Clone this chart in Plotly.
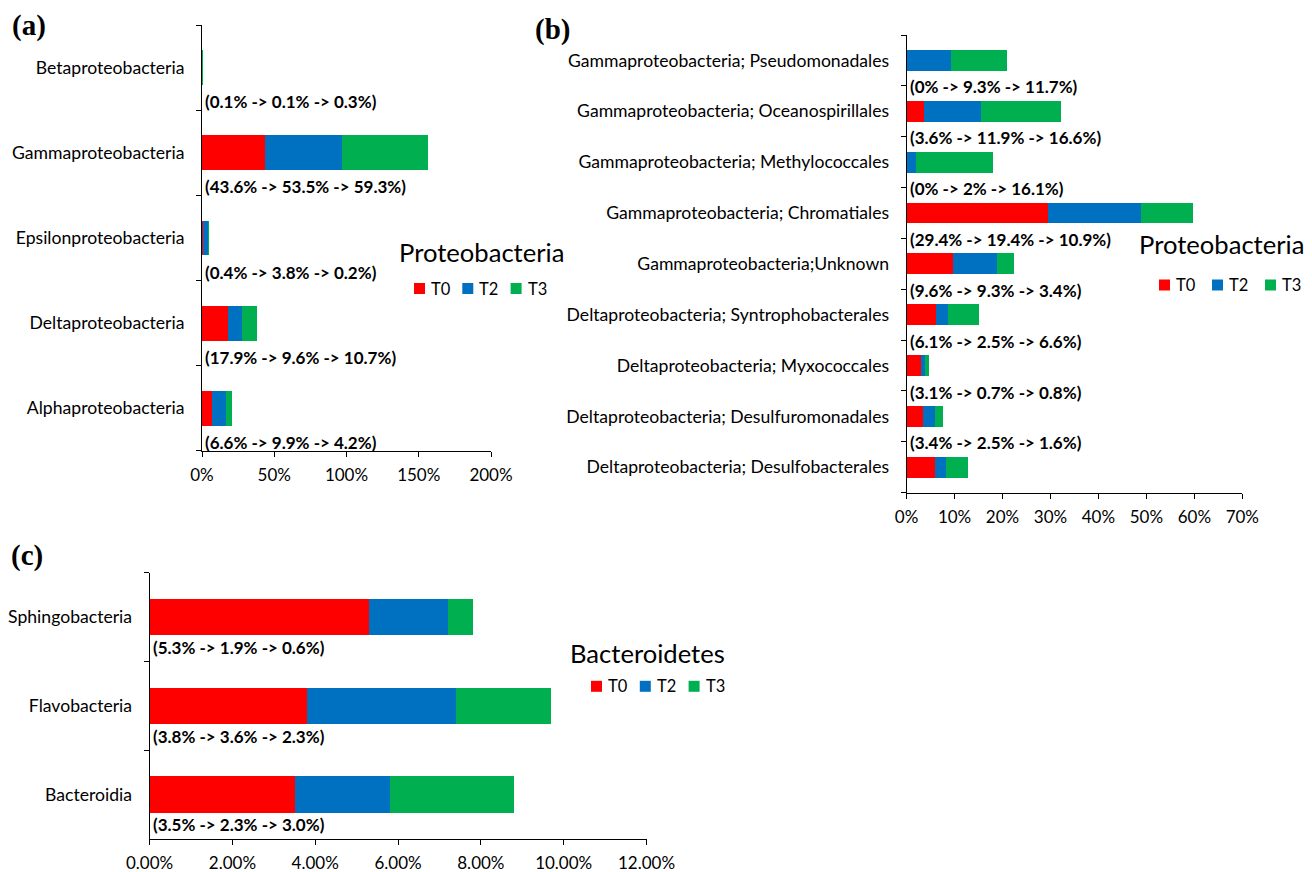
import plotly.graph_objects as go

# ---------------- data ----------------
series = ["T0", "T2", "T3"]
colors = ["#FF0000", "#0070C0", "#00B050"]

# (a) Proteobacteria classes, bottom -> top
cats_a = ["Alphaproteobacteria", "Deltaproteobacteria", "Epsilonproteobacteria",
          "Gammaproteobacteria", "Betaproteobacteria"]
t0_a = [6.6, 17.9, 0.4, 43.6, 0.1]
t2_a = [9.9, 9.6, 3.8, 53.5, 0.1]
t3_a = [4.2, 10.7, 0.2, 59.3, 0.3]

# (b) Proteobacteria orders, bottom -> top
cats_b = ["Deltaproteobacteria; Desulfobacterales",
          "Deltaproteobacteria; Desulfuromonadales",
          "Deltaproteobacteria; Myxococcales",
          "Deltaproteobacteria; Syntrophobacterales",
          "Gammaproteobacteria;Unknown",
          "Gammaproteobacteria; Chromatiales",
          "Gammaproteobacteria; Methylococcales",
          "Gammaproteobacteria; Oceanospirillales",
          "Gammaproteobacteria; Pseudomonadales"]
t0_b = [6.0, 3.4, 3.1, 6.1, 9.6, 29.4, 0, 3.6, 0]
t2_b = [2.3, 2.5, 0.7, 2.5, 9.3, 19.4, 2, 11.9, 9.3]
t3_b = [4.6, 1.6, 0.8, 6.6, 3.4, 10.9, 16.1, 16.6, 11.7]

# (c) Bacteroidetes classes, bottom -> top
cats_c = ["Bacteroidia", "Flavobacteria", "Sphingobacteria"]
t0_c = [3.5, 3.8, 5.3]
t2_c = [2.3, 3.6, 1.9]
t3_c = [3.0, 2.3, 0.6]

legend_titles = ["Proteobacteria", "Proteobacteria", "Bacteroidetes"]
panel_tags = ["(a)", "(b)", "(c)"]

# ---------------- figure ----------------
# The page body has an 8px margin, so the figure is drawn 8px in from the
# window's corner.
OFF = 8
W, H = 1312 - 2 * OFF, 872 - OFF
FONT = "Lato"


def px(x):
    return (x - OFF) / W


def py(y):
    return 1 - (y - OFF) / H


fig = go.Figure()

panels = [
    dict(cats=cats_a, vals=[t0_a, t2_a, t3_a], xa="x", ya="y", off=0.40,
         leg=dict(title=legend_titles[0], tx=481.7, ty=251.6, sx=414, step=48.3, iy=288.5)),
    dict(cats=cats_b, vals=[t0_b, t2_b, t3_b], xa="x2", ya="y2", off=0.52,
         leg=dict(title=legend_titles[1], tx=1221.5, ty=244.2, sx=1159, step=53, iy=285)),
    dict(cats=cats_c, vals=[t0_c, t2_c, t3_c], xa="x3", ya="y3", off=0.34,
         leg=dict(title=legend_titles[2], tx=647, ty=652.5, sx=591, step=48.8, iy=686.3)),
]

annotations = []
shapes = []
for p in panels:
    for name, col, v in zip(series, colors, p["vals"]):
        fig.add_trace(go.Bar(
            x=v, y=p["cats"], orientation="h", name=name,
            marker=dict(color=col, line=dict(width=0)),
            width=0.41, xaxis=p["xa"], yaxis=p["ya"], showlegend=False,
        ))
    for i, c in enumerate(p["cats"]):
        a, b, d = p["vals"][0][i], p["vals"][1][i], p["vals"][2][i]
        annotations.append(dict(
            x=0, y=i - p["off"], xref=p["xa"], yref=p["ya"],
            text=f"<b>({a}% -> {b}% -> {d}%)</b>", showarrow=False,
            xanchor="left", yanchor="middle", xshift=1,
            font=dict(family=FONT, size=17, color="black"),
        ))
    # legend (title + colour keys)
    lg = p["leg"]
    annotations.append(dict(
        x=px(lg["tx"]), y=py(lg["ty"]), xref="paper", yref="paper",
        text=lg["title"], showarrow=False, xanchor="center", yanchor="middle",
        font=dict(family=FONT, size=25.6, color="black"),
    ))
    for k, (name, col) in enumerate(zip(series, colors)):
        x0 = lg["sx"] + k * lg["step"]
        shapes.append(dict(
            type="rect", xref="paper", yref="paper",
            x0=px(x0), x1=px(x0 + 11),
            y0=py(lg["iy"] + 5.5), y1=py(lg["iy"] - 5.5),
            fillcolor=col, line=dict(width=0),
        ))
        annotations.append(dict(
            x=px(x0 + 15), y=py(lg["iy"]), xref="paper", yref="paper",
            text=name, showarrow=False, xanchor="left", yanchor="middle",
            font=dict(family=FONT, size=16.5, color="black"),
        ))

for txt, tx, ty in zip(panel_tags, [10, 533, 9], [25, 30, 555]):
    annotations.append(dict(
        x=px(tx), y=py(ty), xref="paper", yref="paper",
        text=f"<b>{txt}</b>", showarrow=False, xanchor="left", yanchor="middle",
        font=dict(family="Liberation Serif", size=29, color="black"),
    ))


def xax(x0, x1, rng, dtick, fmt, anchor):
    return dict(domain=[px(x0), px(x1)], range=rng, dtick=dtick, tick0=0,
                tickformat=fmt, ticksuffix="%", showgrid=False, zeroline=False,
                showline=True, linecolor="black", linewidth=1, ticks="outside",
                ticklen=5, tickcolor="black", anchor=anchor, ticklabelstandoff=4,
                automargin=False,
                tickfont=dict(family=FONT, size=17, color="black"))


def yax(y_bottom, y_top, cats, anchor):
    return dict(domain=[py(y_bottom), py(y_top)], type="category",
                categoryorder="array", categoryarray=cats,
                range=[-0.5, len(cats) - 0.5],
                showgrid=False, zeroline=False, showline=True, linecolor="black",
                linewidth=1, ticks="outside", tickson="boundaries", ticklen=5,
                tickcolor="black", anchor=anchor, ticklabelstandoff=13,
                automargin=False,
                tickfont=dict(family=FONT, size=17.6, color="black"))


fig.update_layout(
    width=W, height=H, margin=dict(l=0, r=0, t=0, b=0, autoexpand=False),
    paper_bgcolor="white", plot_bgcolor="white",
    barmode="stack", showlegend=False,
    font=dict(family=FONT, color="black"),
    xaxis=xax(202, 491, [0, 200], 50, "d", "y"),
    yaxis=yax(450.7, 25.3, cats_a, "x"),
    xaxis2=xax(906.6, 1242.3, [0, 70], 10, "d", "y2"),
    yaxis2=yax(492.7, 35, cats_b, "x2"),
    xaxis3=xax(149.6, 646.5, [0, 12], 2, ".2f", "y3"),
    yaxis3=yax(839, 572.7, cats_c, "x3"),
    annotations=annotations, shapes=shapes,
)

fig.write_html("out.html")
